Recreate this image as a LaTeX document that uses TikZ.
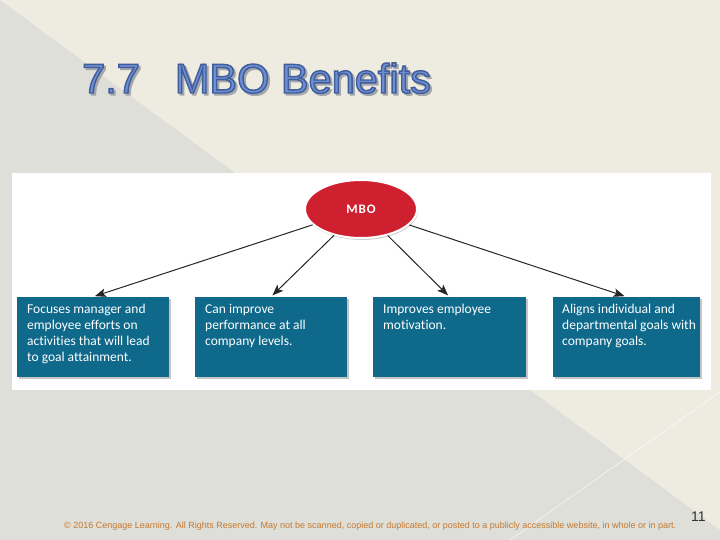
\documentclass[tikz,border=0pt]{standalone}
\usepackage{fontspec}
\usepackage{graphicx}
\setmainfont{Liberation Sans}
\newfontfamily\boxfont{Carlito}[Ligatures=NoCommon]
\usetikzlibrary{shapes.geometric,arrows.meta,shadows}
\definecolor{cream}{HTML}{EEEBE1}
\definecolor{greybg}{HTML}{DEDFD9}
\definecolor{boxblue}{HTML}{0E698A}
\definecolor{mbored}{HTML}{CF2030}
\definecolor{tfill}{HTML}{6C8ED3}
\definecolor{tshadow}{HTML}{A3A7AB}
\definecolor{footorange}{HTML}{C8782C}
\definecolor{arrowgrey}{HTML}{262626}
% text render mode 2 (fill + stroke) with a coloured outline
\newcommand\strokedtext[3]{\special{pdf:literal direct 2 Tr #2 w #1 RG}#3\special{pdf:literal direct 0 Tr}}
\begin{document}
\begin{tikzpicture}[x=1pt,y=-1pt,
  ttl/.style={anchor=base west,inner sep=0pt,font=\fontsize{41.5}{41.5}\selectfont},
  benefit/.style={rectangle,fill=boxblue,minimum height=80pt,inner sep=0pt,
    drop shadow={shadow xshift=2pt,shadow yshift=-2pt,opacity=0.45}},
  btext/.style={anchor=base west,inner sep=0pt,text=white,
    font=\boxfont\fontsize{13.5}{16}\selectfont},
  mbostyle/.style={ellipse,fill=mbored,draw=white,line width=2pt,
    minimum width=112pt,minimum height=58pt,inner sep=0pt,text=white,
    font=\boxfont\bfseries\fontsize{13}{13}\selectfont,
    drop shadow={shadow xshift=1pt,shadow yshift=-2pt,opacity=0.35}},
  arr/.style={draw=arrowgrey,line width=1pt,-{Stealth[length=11pt,width=8.5pt,inset=2.5pt]},shorten >=2pt}
]
\useasboundingbox (0,0) rectangle (720,540);
% background
\fill[cream] (0,0) rectangle (720,540);
\fill[greybg] (0,0) -- (720,530) -- (720,540) -- (0,540) -- cycle;
\draw[white,opacity=0.6,line width=0.8pt] (510,540) -- (720,392);
% title with its shadow
\node[ttl,text=tshadow,xshift=2pt,yshift=-2pt] (tshad) at (82,93)
  {\strokedtext{0.64 0.65 0.67}{1.4}{7.7\hspace{35pt}MBO Benefits}};
\node[ttl,text=tfill] (title) at (82,93)
  {\strokedtext{0.25 0.36 0.6}{1.4}{7.7\hspace{35pt}MBO Benefits}};
% white panel
\fill[white] (12,173) rectangle (711,390);
% boxes
\node[benefit,minimum width=152pt] (b1) at (93,337) {};
\node[benefit,minimum width=152pt] (b2) at (271,337) {};
\node[benefit,minimum width=153pt] (b3) at (449.5,337) {};
\node[benefit,minimum width=147pt] (b4) at (626.5,337) {};
\node[btext] (t1) at (27,313) {\parbox[t]{140pt}{Focuses manager and\\employee efforts on\\activities that will lead\\to goal attainment.}};
\node[btext] (t2) at (205,313) {\parbox[t]{140pt}{Can improve\\performance at all\\company levels.}};
\node[btext] (t3) at (383,313) {\parbox[t]{140pt}{Improves employee\\motivation.}};
\node[btext] (t4) at (562,313) {\parbox[t]{140pt}{Aligns individual and\\departmental goals with\\company goals.}};
% MBO ellipse
\node[mbostyle] (mbo) at (361,209) {M\kern1pt B\kern1pt O};
% arrows
\draw[arr] (mbo) -- (b1.north);
\draw[arr] (mbo) -- (b2.north);
\draw[arr] (mbo) -- (b3.north);
\draw[arr] (mbo) -- (b4.north);
% footer
\node[anchor=base west,inner sep=0pt,text=footorange] (foot) at (64,528)
  {\resizebox{612pt}{!}{\fontsize{8}{8}\selectfont © 2016 Cengage Learning. All Rights Reserved. May not be scanned, copied or duplicated, or posted to a publicly accessible website, in whole or in part.}};
\node[anchor=base west,inner sep=0pt,text=black!80,font=\fontsize{14}{14}\selectfont] (pnum) at (691,521) {11};
\end{tikzpicture}
\end{document}
